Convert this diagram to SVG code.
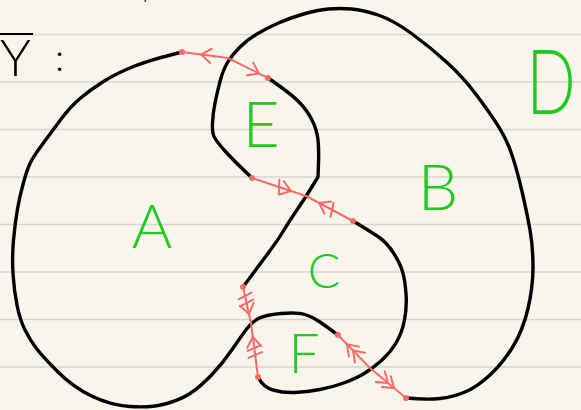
<svg xmlns="http://www.w3.org/2000/svg" xmlns:xlink="http://www.w3.org/1999/xlink" width="581" height="410" viewBox="0 0 581 410">
<style>
.rule{stroke:#d5d5d5;stroke-width:1.6}
.ink{fill:none;stroke:#000;stroke-width:3.4;stroke-linecap:round;stroke-linejoin:round}
.edge{fill:none;stroke:#f86a6a;stroke-width:2;stroke-linecap:round;stroke-linejoin:round}
.dot{fill:#f86a6a}
.lbl{fill:#22c922;font-family:"Lato","Open Sans","Liberation Sans",sans-serif;font-weight:300;text-anchor:middle}
.hand{fill:#000;font-family:"Lato","Liberation Sans",sans-serif;font-weight:300}
</style>
<defs>
<path id="ch" d="M-10,-7 L0,0 L-10,7" class="edge"/>
<path id="tk" d="M-2,-7 L2,7" class="edge"/>
</defs>
<rect width="581" height="410" fill="#f8f6ea"/>
<g id="paper">
<line class="rule" x1="0" y1="34.5" x2="581" y2="34.5"/>
<line class="rule" x1="0" y1="82" x2="581" y2="82"/>
<line class="rule" x1="0" y1="129.5" x2="581" y2="129.5"/>
<line class="rule" x1="0" y1="177" x2="581" y2="177"/>
<line class="rule" x1="0" y1="224.5" x2="581" y2="224.5"/>
<line class="rule" x1="0" y1="272" x2="581" y2="272"/>
<line class="rule" x1="0" y1="319.5" x2="581" y2="319.5"/>
<line class="rule" x1="0" y1="367" x2="581" y2="367"/>
</g>
<g id="title">
<line x1="0" y1="34" x2="33" y2="34" stroke="#000" stroke-width="2.2"/>
<text class="hand" x="0" y="76" font-size="52">Y</text>
<text class="hand" x="55" y="71" font-size="38">:</text>
<text class="hand" x="141" y="-2" font-size="22">y</text>
</g>
<g id="curves">
<path class="ink" d="M182,52 Q150,60 133.5,66.5 Q117,73 103.5,81.5 Q90,90 80,98.5 Q70,107 61.5,118.5 Q53,130 43,143.5 Q33,157 30,163.5 Q27,170 23.5,182.5 Q20,195 17.5,209 Q15,223 13.5,240 Q12,257 13,273.5 Q14,290 17,305 Q20,320 25,330 Q30,340 36.5,348.5 Q43,357 58,372 Q73,387 91.5,396 Q110,405 130,406.5 Q150,408 165,404 Q180,400 190,393.5 Q200,387 211.5,375 Q223,363 232.5,349 Q242,335 247,328.5 Q252,322 258.5,318.5 Q265,315 281,313.5 Q297,312 305,314.5 Q313,317 320,322 Q327,327 338,335"/>
<path class="ink" d="M258,377 Q263,387 273,390 Q283,393 295,392.5 Q307,392 320,389.5 Q333,387 345,382.5 Q357,378 365,373 Q373,368 381.5,360.5 Q390,353 396,343 Q402,333 404.5,320 Q407,307 406,293.5 Q405,280 402.5,271.5 Q400,263 393.5,253 Q387,243 380,238 Q373,233 353,221"/>
<path class="ink" d="M406,398 Q427,400 440,398.5 Q453,397 465,392 Q477,387 490,375 Q503,363 513,346.5 Q523,330 528,308.5 Q533,287 533,267 Q533,247 530,230 Q527,213 522,191.5 Q517,170 512,155 Q507,140 498.5,126.5 Q490,113 476.5,95 Q463,77 446.5,62 Q430,47 411.5,33.5 Q393,20 378,15 Q363,10 351.5,9 Q340,8 328.5,9 Q317,10 303.5,14 Q290,18 278.5,23 Q267,28 257,34 Q247,40 239.5,47.5 Q232,55 227.5,62.5 Q223,70 220,81.5 Q217,93 215,103 Q213,113 212.5,123 Q212,133 214.5,137.5 Q217,142 225,151 Q233,160 252,178"/>
<path class="ink" d="M268,78 Q290,93 298.5,101.5 Q307,110 312,120 Q317,130 318,140 Q319,150 318.5,163.5 L318,177 L305,198 Q290,220 284,230 Q278,240 270.5,250 Q263,260 243,287"/>
</g>
<g id="connectors">
<g id="e1">
<polyline class="edge" points="182,52 228,58 268,78"/>
<use xlink:href="#ch" transform="translate(201,54.5) rotate(187.4)"/>
<use xlink:href="#ch" transform="translate(259,73.5) rotate(26.6)"/>
<circle class="dot" cx="182" cy="52" r="3"/>
<circle class="dot" cx="268" cy="78" r="3"/>
</g>
<g id="e2">
<polyline class="edge" points="252,178 306,196 353,221"/>
<use xlink:href="#ch" transform="translate(291,191) rotate(18.4)"/>
<use xlink:href="#tk" transform="translate(279,187) rotate(18.4)"/>
<use xlink:href="#ch" transform="translate(319,202.9) rotate(208)"/>
<use xlink:href="#tk" transform="translate(332,209.8) rotate(208)"/>
<circle class="dot" cx="252" cy="178" r="3"/>
<circle class="dot" cx="353" cy="221" r="3"/>
</g>
<g id="e3">
<polyline class="edge" points="243,287 251,323 258,377"/>
<use xlink:href="#ch" transform="translate(249,314) rotate(77.5)"/>
<use xlink:href="#tk" transform="translate(245,296) rotate(77.5)"/>
<use xlink:href="#tk" transform="translate(246.6,303) rotate(77.5)"/>
<use xlink:href="#ch" transform="translate(252.9,337) rotate(262.6)"/>
<use xlink:href="#tk" transform="translate(254.3,348) rotate(262.6)"/>
<use xlink:href="#tk" transform="translate(255.2,355) rotate(262.6)"/>
<circle class="dot" cx="243" cy="287" r="3"/>
<circle class="dot" cx="258" cy="377" r="3"/>
</g>
<g id="e4">
<polyline class="edge" points="338,335 370,368 406,398"/>
<use xlink:href="#ch" transform="translate(347,344.3) rotate(225.9)"/>
<use xlink:href="#ch" transform="translate(353,350.5) rotate(225.9)"/>
<use xlink:href="#ch" transform="translate(394,388) rotate(39.8)"/>
<use xlink:href="#ch" transform="translate(388,383) rotate(39.8)"/>
<circle class="dot" cx="338" cy="335" r="3"/>
<circle class="dot" cx="406" cy="398" r="3"/>
</g>
</g>
<g id="A"><text class="lbl" x="152" y="248" font-size="62">A</text></g>
<g id="B"><text class="lbl" x="438" y="210" font-size="64">B</text></g>
<g id="C"><text class="lbl" x="324" y="288" font-size="48">C</text></g>
<g id="D"><text class="lbl" transform="translate(551,114) scale(0.72,1)" font-size="90">D</text></g>
<g id="E"><text class="lbl" x="261" y="147" font-size="64">E</text></g>
<g id="F"><text class="lbl" x="304" y="373" font-size="55">F</text></g>
</svg>
